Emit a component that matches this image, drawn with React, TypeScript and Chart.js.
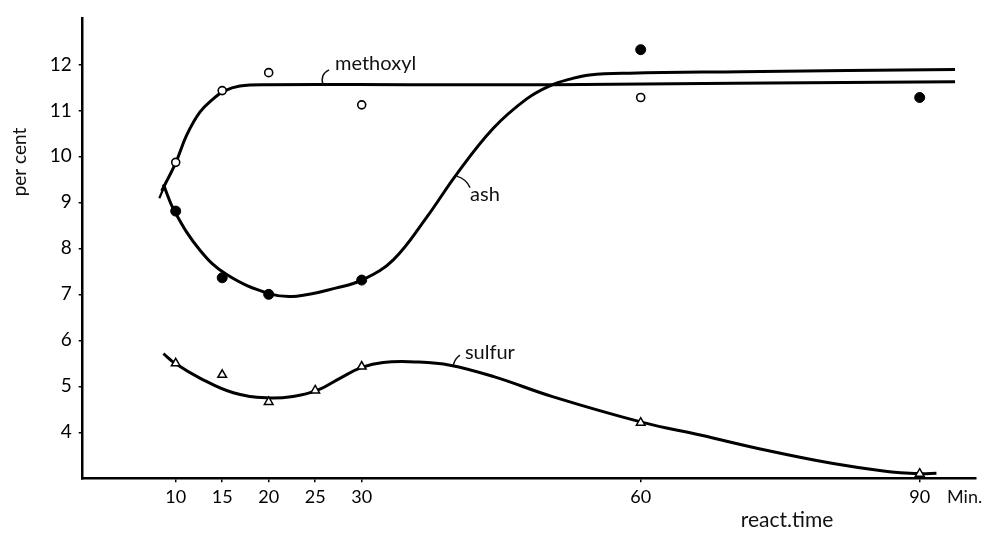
import React, { useEffect, useRef } from "react";
import { Chart, registerables } from "chart.js";
Chart.register(...registerables);

// ---- tick labels ----
const xTickValues = [10, 15, 20, 25, 30, 60, 90];
const yTickValues = [4, 5, 6, 7, 8, 9, 10, 11, 12];

// ---- measured points ----
const methoxylTimes = [10, 15, 20, 30, 60];
const methoxylValues = [9.87, 11.43, 11.82, 11.12, 11.28];

const ashTimes = [10, 15, 20, 30, 60, 90];
const ashValues = [8.81, 7.36, 7.0, 7.31, 12.32, 11.28];

const sulfurTimes = [10, 15, 20, 25, 30, 60, 90];
const sulfurValues = [5.5, 5.25, 4.66, 4.91, 5.43, 4.21, 3.1];

// ---- hand-drawn fitted curves ----
const methoxylCurveX = [8.49, 10, 11.18, 12.6, 14.04, 15.19, 16.9, 19.8, 35, 50.6, 70, 93.8];
const methoxylCurveY = [9.25, 9.86, 10.46, 10.96, 11.25, 11.42, 11.53, 11.56, 11.56, 11.56, 11.59, 11.62];

const ashCurveX = [8.67, 9.92, 12.61, 15.48, 20.14, 23.0, 27.3, 30.14, 33.4, 37.0, 40.2, 44.15, 47.74, 50.3, 52.4, 54.5, 58.8, 70.7, 93.8];
const ashCurveY = [9.39, 8.79, 7.96, 7.43, 7.01, 6.96, 7.14, 7.32, 7.75, 8.68, 9.61, 10.61, 11.25, 11.54, 11.68, 11.77, 11.81, 11.84, 11.89];

const sulfurCurveX = [8.68, 9.92, 12.6, 16.2, 19.8, 22.6, 25.2, 27.7, 30.0, 32.3, 35.9, 39.5, 44.2, 50.6, 60.3, 66.4, 73.5, 80.7, 86.1, 90.0, 91.8];
const sulfurCurveY = [5.71, 5.5, 5.18, 4.86, 4.75, 4.78, 4.91, 5.18, 5.41, 5.52, 5.53, 5.46, 5.21, 4.77, 4.21, 3.94, 3.61, 3.32, 3.16, 3.1, 3.11];

// small crossing stroke at the start of the curves
const crossMarkX = [8.24, 9.03];
const crossMarkY = [9.09, 9.47];

const FONT = "Lato, 'Open Sans', sans-serif";

const zip = (xs: number[], ys: number[]) => xs.map((x, i) => ({ x, y: ys[i] }));

const annotationPlugin = {
  id: "annotations",
  afterDraw(chart: any) {
    const ctx = chart.ctx as CanvasRenderingContext2D;
    const xs = chart.scales.x;
    const ys = chart.scales.y;
    const px = (v: number) => xs.getPixelForValue(v);
    const py = (v: number) => ys.getPixelForValue(v);
    ctx.save();
    ctx.fillStyle = "#111";
    ctx.strokeStyle = "#111";
    ctx.lineWidth = 1.5;
    ctx.font = `20px ${FONT}`;
    ctx.textBaseline = "alphabetic";
    ctx.textAlign = "left";

    const label = (text: string, x: number, y: number, lead: number[]) => {
      ctx.fillText(text, px(x), py(y));
      ctx.beginPath();
      ctx.moveTo(px(lead[0]), py(lead[1]));
      ctx.quadraticCurveTo(px(lead[2]), py(lead[3]), px(lead[4]), py(lead[5]));
      ctx.stroke();
    };
    label("methoxyl", 27.13, 11.88, [25.83, 11.56, 25.52, 11.79, 26.49, 11.88]);
    label("ash", 41.65, 9.03, [40.22, 9.57, 41.29, 9.5, 41.65, 9.32]);
    label("sulfur", 41.1, 5.59, [39.85, 5.46, 40.03, 5.61, 40.57, 5.68]);

    // axis titles
    ctx.font = `19px ${FONT}`;
    ctx.textAlign = "center";
    ctx.textBaseline = "middle";
    ctx.save();
    ctx.translate(20, 162);
    ctx.rotate(-Math.PI / 2);
    ctx.fillText("per cent", 0, 0);
    ctx.restore();

    ctx.font = `21px ${FONT}`;
    ctx.fillText("react.time", 787, 520);
    ctx.font = `18px ${FONT}`;
    ctx.textAlign = "left";
    ctx.fillText("Min.", 947, 497);
    ctx.restore();
  },
};

export default function App() {
  const ref = useRef<HTMLCanvasElement | null>(null);
  useEffect(() => {
    if (!ref.current) return;
    const curve = (label: string, xs: number[], ys: number[]) => ({
      label,
      data: zip(xs, ys),
      showLine: true,
      pointRadius: 0,
      borderColor: "#000",
      borderWidth: 3,
      tension: 0.4,
      order: 1,
    });
    const chart = new Chart(ref.current, {
      type: "scatter",
      data: {
        datasets: [
          {
            label: "methoxyl",
            data: zip(methoxylTimes, methoxylValues),
            showLine: false,
            pointStyle: "circle",
            pointRadius: 4,
            pointBorderWidth: 1.6,
            pointBackgroundColor: "#fff",
            pointBorderColor: "#000",
            order: 0,
          },
          {
            label: "ash",
            data: zip(ashTimes, ashValues),
            showLine: false,
            pointStyle: "circle",
            pointRadius: 5,
            pointBorderWidth: 1,
            pointBackgroundColor: "#000",
            pointBorderColor: "#000",
            order: 0,
          },
          {
            label: "sulfur",
            data: zip(sulfurTimes, sulfurValues),
            showLine: false,
            pointStyle: "triangle",
            pointRadius: 5,
            pointBorderWidth: 1.5,
            pointBackgroundColor: "#fff",
            pointBorderColor: "#000",
            order: 0,
          },
          curve("methoxyl curve", methoxylCurveX, methoxylCurveY),
          curve("ash curve", ashCurveX, ashCurveY),
          curve("sulfur curve", sulfurCurveX, sulfurCurveY),
          {
            label: "mark",
            data: zip(crossMarkX, crossMarkY),
            showLine: true,
            pointRadius: 0,
            borderColor: "#000",
            borderWidth: 2.2,
            tension: 0,
            order: 1,
          },
        ],
      },
      options: {
        animation: false,
        responsive: false,
        devicePixelRatio: 1,
        layout: { padding: { top: 11.5, right: 8.5, left: 0, bottom: 0 } },
        plugins: { legend: { display: false }, tooltip: { enabled: false } },
        scales: {
          x: {
            type: "linear",
            min: 0,
            max: 96,
            afterBuildTicks: (s: any) => {
              s.ticks = xTickValues.map((v) => ({ value: v }));
            },
            afterFit: (s: any) => {
              s.height = 59.7;
            },
            grid: { drawOnChartArea: false, drawTicks: true, tickLength: 4, color: "#000", lineWidth: 1.5 },
            border: { display: true, color: "#000", width: 2.5 },
            ticks: {
              color: "#000",
              font: { family: FONT, size: 18 },
              padding: 4,
              maxRotation: 0,
              autoSkip: false,
            },
          },
          y: {
            type: "linear",
            min: 3,
            max: 13,
            afterBuildTicks: (s: any) => {
              s.ticks = yTickValues.map((v) => ({ value: v }));
            },
            afterFit: (s: any) => {
              s.width = 82.7;
            },
            grid: { drawOnChartArea: false, drawTicks: true, tickLength: 4, color: "#000", lineWidth: 1.5 },
            border: { display: true, color: "#000", width: 2.5 },
            ticks: {
              color: "#000",
              font: { family: FONT, size: 19 },
              padding: 7,
              autoSkip: false,
            },
          },
        },
      },
      plugins: [annotationPlugin],
    } as any);
    return () => chart.destroy();
  }, []);
  return (
    <div style={{ position: "absolute", left: 0, top: 0, width: 984, height: 538, background: "#fff" }}>
      <canvas ref={ref} width={984} height={538} style={{ display: "block" }} />
    </div>
  );
}
